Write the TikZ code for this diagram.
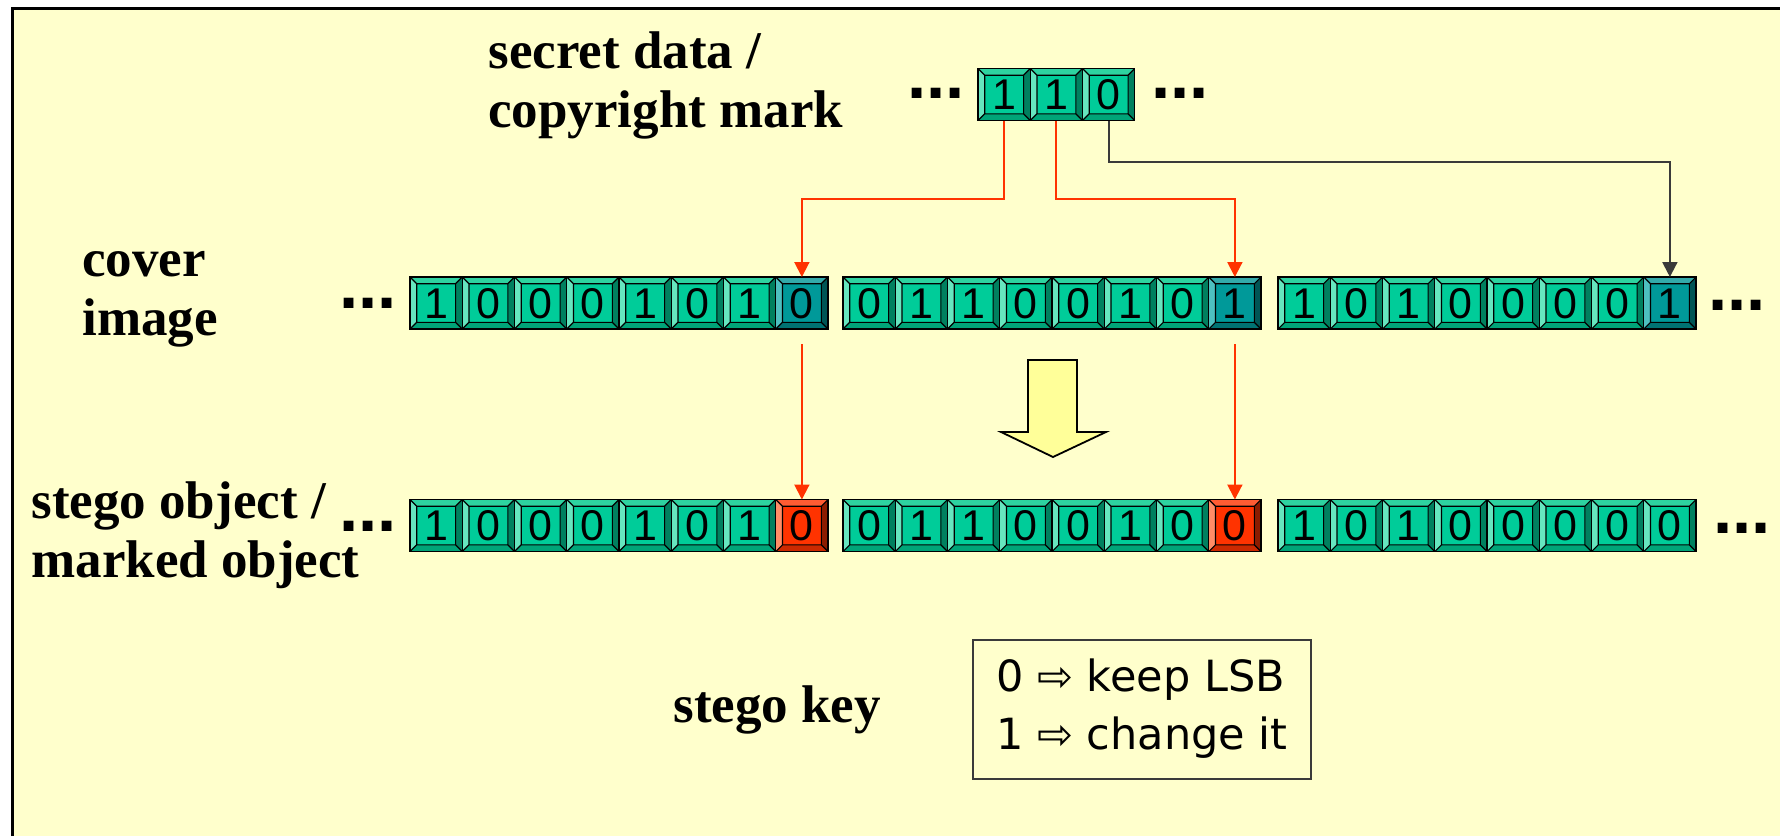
\documentclass[tikz,border=0pt]{standalone}
\usepackage{fontspec}
\setmainfont{Liberation Serif}
\newfontfamily\bitfamily{Liberation Sans}
\newfontfamily\keyfamily{DejaVu Sans}
\usetikzlibrary{arrows.meta}
\definecolor{bgyellow}{HTML}{FFFFCC}
\definecolor{gface}{HTML}{00CC99}
\definecolor{gtop}{HTML}{2ED3A0}
\definecolor{gleft}{HTML}{66E6BF}
\definecolor{gright}{HTML}{00805F}
\definecolor{gbot}{HTML}{00A478}
\definecolor{tface}{HTML}{009999}
\definecolor{ttop}{HTML}{33AAAA}
\definecolor{tleft}{HTML}{4DC0C0}
\definecolor{tright}{HTML}{005555}
\definecolor{tbot}{HTML}{007373}
\definecolor{rface}{HTML}{FF3300}
\definecolor{rtop}{HTML}{FF5C33}
\definecolor{rleft}{HTML}{FF8C66}
\definecolor{rright}{HTML}{8C1C00}
\definecolor{rbot}{HTML}{CC2900}
\definecolor{linered}{HTML}{FF3300}
\definecolor{linegray}{HTML}{3A3A3A}
\definecolor{arrowyellow}{HTML}{FFFF99}
\newcommand\bvw{3.35pt}
\newcommand\bevelpic[5]{%
  \fill[#2] (path picture bounding box.north west) -- (path picture bounding box.north east)
    -- ([shift={(-\bvw,-\bvw)}]path picture bounding box.north east)
    -- ([shift={(\bvw,-\bvw)}]path picture bounding box.north west) -- cycle;
  \fill[#3] (path picture bounding box.north west) -- (path picture bounding box.south west)
    -- ([shift={(\bvw,\bvw)}]path picture bounding box.south west)
    -- ([shift={(\bvw,-\bvw)}]path picture bounding box.north west) -- cycle;
  \fill[#4] (path picture bounding box.north east) -- (path picture bounding box.south east)
    -- ([shift={(-\bvw,\bvw)}]path picture bounding box.south east)
    -- ([shift={(-\bvw,-\bvw)}]path picture bounding box.north east) -- cycle;
  \fill[#5] (path picture bounding box.south west) -- (path picture bounding box.south east)
    -- ([shift={(-\bvw,\bvw)}]path picture bounding box.south east)
    -- ([shift={(\bvw,\bvw)}]path picture bounding box.south west) -- cycle;
  \fill[#1] ([shift={(\bvw,\bvw)}]path picture bounding box.south west)
    rectangle ([shift={(-\bvw,-\bvw)}]path picture bounding box.north east);
  \draw[black, line width=0.55pt]
    ([shift={(\bvw,\bvw)}]path picture bounding box.south west)
    rectangle ([shift={(-\bvw,-\bvw)}]path picture bounding box.north east)
    (path picture bounding box.south west) -- ([shift={(\bvw,\bvw)}]path picture bounding box.south west)
    (path picture bounding box.north west) -- ([shift={(\bvw,-\bvw)}]path picture bounding box.north west)
    (path picture bounding box.south east) -- ([shift={(-\bvw,\bvw)}]path picture bounding box.south east)
    (path picture bounding box.north east) -- ([shift={(-\bvw,-\bvw)}]path picture bounding box.north east);
}
\tikzset{
  bitcell/.style={draw=black, line width=0.7pt, inner sep=0pt, outer sep=0pt,
    minimum width=26.125pt, minimum height=26pt, text height=15.4pt, text depth=0pt,
    font=\bitfamily\fontsize{21.5pt}{21.5pt}\selectfont},
  gbit/.style={bitcell, path picture={\bevelpic{gface}{gtop}{gleft}{gright}{gbot}}},
  tbit/.style={bitcell, path picture={\bevelpic{tface}{ttop}{tleft}{tright}{tbot}}},
  rbit/.style={bitcell, path picture={\bevelpic{rface}{rtop}{rleft}{rright}{rbot}}},
  lbl/.style={anchor=base west, inner sep=0pt, align=left,
    font=\bfseries\fontsize{26.5pt}{29.5pt}\selectfont},
  dots/.style={anchor=west, inner sep=0pt,
    font=\bitfamily\bfseries\fontsize{34.5pt}{34.5pt}\selectfont},
  redln/.style={draw=linered, line width=1pt},
  grayln/.style={draw=linegray, line width=1pt},
  tip/.style={-{Triangle[length=7.5pt,width=7.5pt]}},
  keybox/.style={draw=linegray, line width=1pt, minimum width=169pt, minimum height=69.5pt,
    align=left, inner sep=0pt, font=\keyfamily\fontsize{21.5pt}{29pt}\selectfont},
  bigarrow/.style={fill=arrowyellow, draw=black, line width=0.9pt, line join=miter}
}
\begin{document}
\begin{tikzpicture}[x=0.5pt, y=-0.5pt]
\useasboundingbox (0,0) rectangle (1780,836);
\fill[white] (0,0) rectangle (1780,836);
\fill[bgyellow] (12,8) rectangle (1780,836);
\draw[black, line width=1.5pt] (12,836) -- (12,8) -- (1780,8);

% labels (base anchor = baseline of the last line)
\node[lbl] (lsecret) at (488,127) {secret data /\\copyright mark};
\node[lbl] (lcover) at (82,335) {cover\\image};
\node[lbl] (lstego) at (31,577) {stego object /\\marked object};
\node[lbl] (lkey) at (673,722) {stego key};

% secret bits
\foreach \d [count=\i] in {1,1,0} {
  \node[gbit] (s\i) at ({978+(\i-0.5)*52.25},94.5) {\d};
}
\node[dots] (dtl) at (907,93) {...};
\node[dots] (dtr) at (1151,93) {...};

% cover row
\foreach \d [count=\i] in {1,0,0,0,1,0,1} {
  \node[gbit] (a\i) at ({410+(\i-0.5)*52.25},303) {\d};
}
\node[tbit] (a8) at ({410+7.5*52.25},303) {0};
\foreach \d [count=\i] in {0,1,1,0,0,1,0} {
  \node[gbit] (b\i) at ({843+(\i-0.5)*52.25},303) {\d};
}
\node[tbit] (b8) at ({843+7.5*52.25},303) {1};
\foreach \d [count=\i] in {1,0,1,0,0,0,0} {
  \node[gbit] (c\i) at ({1278+(\i-0.5)*52.25},303) {\d};
}
\node[tbit] (c8) at ({1278+7.5*52.25},303) {1};
\node[dots] (dcl) at (339,303) {...};
\node[dots] (dcr) at (1708,305) {...};

% stego row
\foreach \d [count=\i] in {1,0,0,0,1,0,1} {
  \node[gbit] (d\i) at ({410+(\i-0.5)*52.25},525.5) {\d};
}
\node[rbit] (d8) at ({410+7.5*52.25},525.5) {0};
\foreach \d [count=\i] in {0,1,1,0,0,1,0} {
  \node[gbit] (e\i) at ({843+(\i-0.5)*52.25},525.5) {\d};
}
\node[rbit] (e8) at ({843+7.5*52.25},525.5) {0};
\foreach \d [count=\i] in {1,0,1,0,0,0,0,0} {
  \node[gbit] (f\i) at ({1278+(\i-0.5)*52.25},525.5) {\d};
}
\node[dots] (dsl) at (339,526) {...};
\node[dots] (dsr) at (1713,528) {...};

% connectors
\draw[redln, tip] (s1.south) -- ++(0,78) -| (a8.north);
\draw[redln, tip] (s2.south) -- ++(0,78) -| (b8.north);
\draw[grayln, tip] (s3.south) -- ++(0,41) -| (c8.north);
\draw[redln, tip, shorten <=7.5pt] (a8.south) -- (d8.north);
\draw[redln, tip, shorten <=7.5pt] (b8.south) -- (e8.north);

% big yellow arrow
\draw[bigarrow] (1028,360) -- (1077,360) -- (1077,432) -- (1106,432) -- (1053,457)
  -- (1001,432) -- (1028,432) -- cycle;

% key box
\node[keybox] (key) at (1142,709) {0 ⇨ keep LSB\\1 ⇨ change it};
\end{tikzpicture}
\end{document}
